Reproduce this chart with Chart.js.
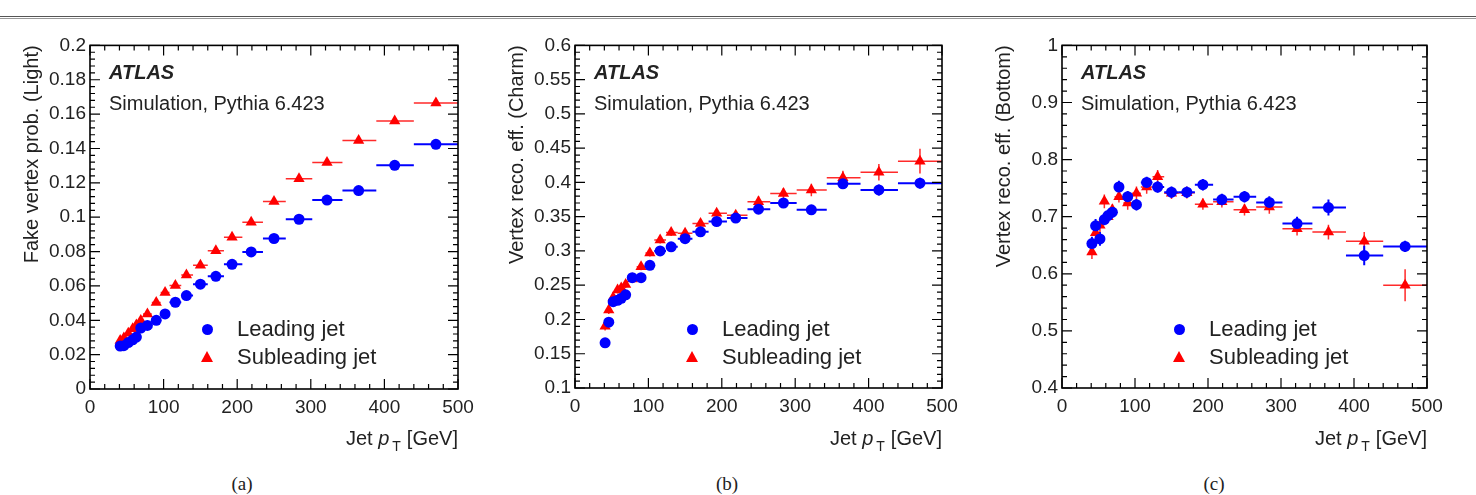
<!DOCTYPE html>
<html>
<head>
<meta charset="utf-8">
<script src="https://cdn.jsdelivr.net/npm/chart.js@4.4.1/dist/chart.umd.min.js"></script>
<style>
  body { margin: 0; background: #fff; width: 1476px; height: 495px; overflow: hidden; position: relative;
         font-family: "Liberation Sans", Arial, sans-serif; color: #222; }
  .rule { position: absolute; left: 0; top: 16px; width: 1476px; height: 1px; border-top: 1px solid #555; border-bottom: 1px solid #999; }
  canvas { position: absolute; }
  .t { position: absolute; white-space: nowrap; line-height: 1; }
  .atlas { font-weight: bold; font-style: italic; font-size: 20px; }
  .sim { font-size: 20px; }
  .leg { font-size: 22px; }
  .xt { font-size: 20px; }
  .xt sub { font-size: 14px; vertical-align: -6px; margin-left: 3px; margin-right: 6px; }
  .cap { font-family: "Liberation Serif", "Times New Roman", serif; font-size: 19px; }
  .dot { position: absolute; width: 11px; height: 11px; border-radius: 50%; background: #0000ff; }
  .tri { position: absolute; width: 0; height: 0; border-left: 6.5px solid transparent; border-right: 6.5px solid transparent; border-bottom: 11px solid #ff0000; }
</style>
</head>
<body>
<div class="rule"></div>

<script>
// jet pT bins (GeV): point position and bin edges
const ptCentres = [41, 46, 52, 58, 63, 69, 78, 90, 102, 116, 131, 150, 171, 193, 219, 250, 284, 322, 365, 414, 470];
const ptLow     = [40, 43, 49, 55, 61, 66, 72, 84, 96, 108, 124, 140, 160, 182, 207, 235, 266, 302, 343, 389, 440];
const ptHigh    = [43, 49, 55, 61, 66, 72, 84, 96, 108, 124, 140, 160, 182, 207, 235, 266, 302, 343, 389, 440, 500];
const xTicks = [0, 100, 200, 300, 400, 500];

// (a) light jets: fake vertex probability
const lightLead = [0.0250, 0.0252, 0.0270, 0.0286, 0.0302, 0.0355, 0.0370, 0.0400, 0.0437, 0.0505, 0.0544, 0.0610, 0.0656, 0.0726, 0.0798, 0.0876, 0.0988, 0.1100, 0.1155, 0.1302, 0.1424];
const lightLeadErr = [0.0006, 0.0006, 0.0006, 0.0006, 0.0006, 0.0006, 0.0006, 0.0006, 0.0006, 0.0006, 0.0006, 0.0006, 0.0006, 0.0007, 0.0007, 0.0007, 0.0008, 0.0008, 0.0009, 0.0010, 0.0010];
const lightSub = [0.0282, 0.0297, 0.0325, 0.0350, 0.0372, 0.0398, 0.0437, 0.0503, 0.0562, 0.0603, 0.0663, 0.0720, 0.0804, 0.0884, 0.0970, 0.1092, 0.1224, 0.1318, 0.1447, 0.1560, 0.1665];
const lightSubErr = [0.0008, 0.0008, 0.0008, 0.0008, 0.0008, 0.0008, 0.0008, 0.0008, 0.0008, 0.0008, 0.0008, 0.0008, 0.0009, 0.0009, 0.0009, 0.0010, 0.0010, 0.0011, 0.0012, 0.0013, 0.0014];
const yTicksLight = [0, 0.02, 0.04, 0.06, 0.08, 0.1, 0.12, 0.14, 0.16, 0.18, 0.2];

// (b) charm jets: vertex reconstruction efficiency
const charmLead = [0.166, 0.196, 0.226, 0.228, 0.231, 0.236, 0.261, 0.261, 0.279, 0.300, 0.306, 0.318, 0.328, 0.343, 0.348, 0.361, 0.370, 0.360, 0.398, 0.389, 0.399];
const charmLeadErr = [0.006, 0.005, 0.004, 0.004, 0.004, 0.004, 0.004, 0.004, 0.004, 0.004, 0.004, 0.004, 0.004, 0.005, 0.005, 0.005, 0.006, 0.006, 0.007, 0.008, 0.008];
const charmSub = [0.190, 0.214, 0.232, 0.243, 0.246, 0.251, 0.259, 0.277, 0.297, 0.316, 0.327, 0.326, 0.340, 0.355, 0.352, 0.372, 0.384, 0.389, 0.407, 0.415, 0.431];
const charmSubErr = [0.006, 0.006, 0.005, 0.005, 0.005, 0.005, 0.005, 0.005, 0.005, 0.005, 0.005, 0.005, 0.006, 0.006, 0.006, 0.008, 0.008, 0.009, 0.010, 0.012, 0.018];
const yTicksCharm = [0.1, 0.15, 0.2, 0.25, 0.3, 0.35, 0.4, 0.45, 0.5, 0.55, 0.6];

// (c) bottom jets: vertex reconstruction efficiency
const bottomLead = [0.653, 0.684, 0.661, 0.695, 0.702, 0.708, 0.752, 0.735, 0.721, 0.760, 0.752, 0.743, 0.743, 0.756, 0.730, 0.735, 0.725, 0.688, 0.716, 0.632, 0.648];
const bottomLeadErr = [0.012, 0.012, 0.012, 0.010, 0.010, 0.010, 0.011, 0.010, 0.010, 0.010, 0.010, 0.010, 0.010, 0.010, 0.010, 0.010, 0.011, 0.012, 0.014, 0.017, 0.010];
const bottomSub = [0.638, 0.672, 0.685, 0.727, 0.700, 0.712, 0.735, 0.724, 0.741, 0.752, 0.770, 0.741, 0.742, 0.722, 0.726, 0.712, 0.717, 0.679, 0.673, 0.657, 0.580];
const bottomSubErr = [0.012, 0.012, 0.012, 0.012, 0.010, 0.010, 0.010, 0.012, 0.012, 0.012, 0.012, 0.010, 0.010, 0.010, 0.010, 0.010, 0.012, 0.012, 0.013, 0.016, 0.028];
const yTicksBottom = [0.4, 0.5, 0.6, 0.7, 0.8, 0.9, 1];

const panels = [
  { id: 'a', lead: lightLead, leadErr: lightLeadErr, sub: lightSub, subErr: lightSubErr, yTicks: yTicksLight,
    yTitle: 'Fake vertex prob. (Light)', box: { l: 90, r: 458, t: 43, b: 389 } },
  { id: 'b', lead: charmLead, leadErr: charmLeadErr, sub: charmSub, subErr: charmSubErr, yTicks: yTicksCharm,
    yTitle: 'Vertex reco. eff. (Charm)', box: { l: 575, r: 942, t: 44, b: 388 } },
  { id: 'c', lead: bottomLead, leadErr: bottomLeadErr, sub: bottomSub, subErr: bottomSubErr, yTicks: yTicksBottom,
    yTitle: 'Vertex reco. eff. (Bottom)', box: { l: 1062, r: 1427, t: 44, b: 388 } }
];

Chart.defaults.font.family = '"Liberation Sans", Arial, sans-serif';
Chart.defaults.font.size = 19;
Chart.defaults.color = '#222';

// horizontal bin-width and vertical stat error bars
const errBars = {
  id: 'errBars',
  beforeDatasetsDraw(chart) {
    const { ctx, scales: { x, y } } = chart;
    chart.data.datasets.slice().reverse().forEach(ds => {
      ctx.save();
      ctx.strokeStyle = ds.errColor;
      ctx.lineWidth = ds.errWidth;
      ds.data.forEach((p, i) => {
        const px = x.getPixelForValue(p.x), py = y.getPixelForValue(p.y);
        ctx.beginPath();
        ctx.moveTo(x.getPixelForValue(ds.xLo[i]), py);
        ctx.lineTo(x.getPixelForValue(ds.xHi[i]), py);
        ctx.moveTo(px, y.getPixelForValue(p.y - ds.yErr[i]));
        ctx.lineTo(px, y.getPixelForValue(p.y + ds.yErr[i]));
        ctx.stroke();
      });
      ctx.restore();
    });
  }
};

// ROOT-like frame with inward ticks on all four sides
const frame = {
  id: 'frame',
  afterDraw(chart) {
    const { ctx, chartArea: a, scales: { x, y } } = chart;
    ctx.save();
    ctx.strokeStyle = '#000';
    ctx.lineWidth = 1.6;
    ctx.strokeRect(a.left, a.top, a.right - a.left, a.bottom - a.top);
    ctx.lineWidth = 1.2;
    ctx.beginPath();
    const xv = x.ticks.map(t => t.value), yv = y.ticks.map(t => t.value);
    const xs = (xv[1] - xv[0]) / 5, ys = (yv[1] - yv[0]) / 5;
    for (let i = 0; i <= (xv.length - 1) * 5; i++) {
      const px = x.getPixelForValue(xv[0] + i * xs), len = i % 5 === 0 ? 10 : 5;
      ctx.moveTo(px, a.bottom); ctx.lineTo(px, a.bottom - len);
      ctx.moveTo(px, a.top); ctx.lineTo(px, a.top + len);
    }
    for (let i = 0; i <= (yv.length - 1) * 5; i++) {
      const py = y.getPixelForValue(yv[0] + i * ys), len = i % 5 === 0 ? 10 : 5;
      ctx.moveTo(a.left, py); ctx.lineTo(a.left + len, py);
      ctx.moveTo(a.right, py); ctx.lineTo(a.right - len, py);
    }
    ctx.stroke();
    ctx.restore();
  }
};

function addText(cls, html, left, top, extra) {
  const d = document.createElement('div');
  d.className = 't ' + cls;
  d.innerHTML = html;
  d.style.left = left + 'px';
  d.style.top = top + 'px';
  if (extra) Object.assign(d.style, extra);
  document.body.appendChild(d);
  return d;
}

panels.forEach(p => {
  const b = p.box, canvasTop = 30, canvasH = 400, axisW = 90, padR = 32;
  const cv = document.createElement('canvas');
  const w = (b.r - b.l) + axisW + padR;
  cv.width = w; cv.height = canvasH;
  cv.style.left = (b.l - axisW) + 'px';
  cv.style.top = canvasTop + 'px';
  cv.style.width = w + 'px'; cv.style.height = canvasH + 'px';
  document.body.appendChild(cv);

  const pts = vals => ptCentres.map((x, i) => ({ x, y: vals[i] }));

  new Chart(cv, {
    type: 'scatter',
    data: {
      datasets: [{
        label: 'Leading jet',
        data: pts(p.lead),
        pointStyle: 'circle', pointRadius: 5.5, pointBorderWidth: 0,
        backgroundColor: '#0000ff', borderColor: '#0000ff',
        errColor: '#0000ff', errWidth: 2,
        xLo: ptLow, xHi: ptHigh, yErr: p.leadErr
      }, {
        label: 'Subleading jet',
        data: pts(p.sub),
        pointStyle: 'triangle', pointRadius: 6.5, pointBorderWidth: 0,
        backgroundColor: '#ff0000', borderColor: '#ff0000',
        errColor: '#ff2a2a', errWidth: 1.5,
        xLo: ptLow, xHi: ptHigh, yErr: p.subErr
      }]
    },
    options: {
      responsive: false,
      animation: false,
      layout: { padding: { top: b.t - canvasTop, right: padR, bottom: 0, left: 0 } },
      plugins: { legend: { display: false }, tooltip: { enabled: false } },
      scales: {
        x: {
          type: 'linear', min: 0, max: 500,
          afterBuildTicks: s => { s.ticks = xTicks.map(v => ({ value: v })); },
          afterFit: s => { s.height = canvasTop + canvasH - b.b; },
          grid: { display: false, drawTicks: false },
          border: { display: false },
          ticks: { padding: 7, maxRotation: 0 }
        },
        y: {
          type: 'linear', min: p.yTicks[0], max: p.yTicks[p.yTicks.length - 1],
          afterBuildTicks: s => { s.ticks = p.yTicks.map(v => ({ value: v })); },
          afterFit: s => { s.width = axisW; },
          grid: { display: false, drawTicks: false },
          border: { display: false },
          ticks: { padding: 4, callback: v => String(Math.round(v * 1000) / 1000) },
          title: { display: true, text: p.yTitle, align: 'end', font: { size: 20 }, padding: { top: 20, bottom: 0 } }
        }
      }
    },
    plugins: [errBars, frame]
  });

  // labels inside the frame
  addText('atlas', 'ATLAS', b.l + 19, 62);
  addText('sim', 'Simulation, Pythia 6.423', b.l + 19, 93);
  const mk1 = document.createElement('div'); mk1.className = 'dot';
  mk1.style.left = (b.l + 117 - 5.5) + 'px'; mk1.style.top = (329 - 5.5) + 'px';
  document.body.appendChild(mk1);
  const mk2 = document.createElement('div'); mk2.className = 'tri';
  mk2.style.left = (b.l + 117 - 6.5) + 'px'; mk2.style.top = (357 - 6) + 'px';
  document.body.appendChild(mk2);
  addText('leg', 'Leading jet', b.l + 147, 318);
  addText('leg', 'Subleading jet', b.l + 147, 346);

  // x-axis title, right aligned to the frame
  addText('xt', 'Jet <i>p</i><sub>T</sub>[GeV]', 0, 428, { left: 'auto', right: (1476 - b.r) + 'px' });
  // panel caption
  addText('cap', '(' + p.id + ')', b.l + 152 - 15, 474, { width: '30px', textAlign: 'center' });
});
</script>
</body>
</html>
